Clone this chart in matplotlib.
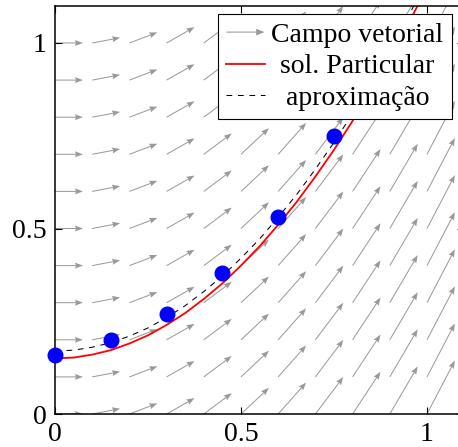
import numpy as np
import matplotlib
matplotlib.use("Agg")
import matplotlib.pyplot as plt
import matplotlib.patches as mpatches
from matplotlib.legend_handler import HandlerPatch
from matplotlib.lines import Line2D

plt.rcParams['font.family'] = ['Liberation Serif', 'DejaVu Serif']

# campo vetorial: inclinacao por coluna
grid_x = [0.0, 0.1, 0.2, 0.3, 0.4, 0.5, 0.6, 0.7, 0.8, 0.9, 1.0]
grid_y = [0.0, 0.1, 0.2, 0.3, 0.4, 0.5, 0.6, 0.7, 0.8, 0.9, 1.0]
slopes = [0.0, 0.19, 0.38, 0.57, 0.75, 0.94, 1.13, 1.33, 1.52, 1.71, 1.92]

# solucao particular
sol_x = [0.0, 0.05, 0.1, 0.15, 0.2, 0.25, 0.3, 0.35, 0.4, 0.45, 0.5,
         0.55, 0.6, 0.65, 0.7, 0.75, 0.8, 0.85, 0.9, 0.95, 1.0]
sol_y = [0.150, 0.152, 0.160, 0.172, 0.190, 0.212, 0.240, 0.272, 0.310, 0.352, 0.400,
         0.452, 0.510, 0.572, 0.640, 0.712, 0.790, 0.872, 0.960, 1.052, 1.150]

# aproximacao (tracejada)
apx_y = [0.170, 0.172, 0.180, 0.192, 0.210, 0.232, 0.260, 0.292, 0.330, 0.372, 0.420,
         0.472, 0.530, 0.592, 0.660, 0.732, 0.810, 0.892, 0.980, 1.072, 1.170]

# pontos (metodo numerico)
pts_x = [0.0, 0.15, 0.3, 0.45, 0.6, 0.75]
pts_y = [0.16, 0.20, 0.27, 0.38, 0.53, 0.75]

W, H = 458, 447
fig = plt.figure(figsize=(W / 100, H / 100), dpi=100)
ax = fig.add_axes([55 / W, 33 / H, 409.2 / W, 408.1 / H])

X, Y = np.meshgrid(grid_x, grid_y)
S = np.tile(slopes, (len(grid_y), 1))
L = 0.075
gray = '#999999'
dash = (0, (5.5, 5.5))
ax.quiver(X, Y, L * np.ones_like(S), L * S, angles='xy', scale_units='xy', scale=1,
          color=gray, units='dots', width=1.0, headwidth=6, headlength=8,
          headaxislength=7, zorder=1)

ax.plot(sol_x, sol_y, color='red', lw=1.3, zorder=2)
ax.plot(sol_x, apx_y, color='black', lw=0.75, ls=dash, zorder=3)
ax.plot(pts_x, pts_y, 'o', color='blue', ms=10.5, zorder=4, clip_on=False)

ax.set_xlim(0, 1.1)
ax.set_ylim(0, 1.1)
ax.set_xticks([0, 0.5, 1])
ax.set_xticklabels(['0', '0.5', '1'])
ax.set_yticks([0, 0.5, 1])
ax.set_yticklabels(['0', '0.5', '1'])
ax.tick_params(direction='in', length=5, width=0.8, labelsize=20, pad=6,
               top=True, right=True)
for s in ax.spines.values():
    s.set_linewidth(1.1)


def make_arrow(legend, orig_handle, xdescent, ydescent, width, height, fontsize):
    return mpatches.FancyArrow(0, height / 2, width, 0, width=0.75,
                               head_width=4.8, head_length=6,
                               length_includes_head=True, color=gray, lw=0)


arrow_h = mpatches.FancyArrow(0, 0, 1, 0, color=gray, lw=0)
red_h = Line2D([], [], color='red', lw=1.3)
dash_h = Line2D([], [], color='black', lw=0.75, ls=dash)
leg = ax.legend([arrow_h, red_h, dash_h],
                ['Campo vetorial', 'sol. Particular', 'aproximação'],
                handler_map={mpatches.FancyArrow: HandlerPatch(patch_func=make_arrow)},
                loc='upper right', bbox_to_anchor=(0.970, 0.980), borderaxespad=0,
                fontsize=20, handlelength=1.37, handletextpad=0.25,
                labelspacing=0.22, borderpad=0.3, fancybox=False,
                framealpha=1, edgecolor='black')
leg.get_frame().set_linewidth(0.8)
leg.set_zorder(5)

# centralizar os textos da legenda
fig.canvas.draw()
rows = leg._legend_handle_box.get_children()[0].get_children()
widths = [t.get_window_extent().width for t in leg.get_texts()]
wmax = max(widths)
for row, w in zip(rows, widths):
    row.sep = row.sep + (wmax - w) / 2 * 72 / fig.dpi

fig.savefig('out.png', dpi=100)
